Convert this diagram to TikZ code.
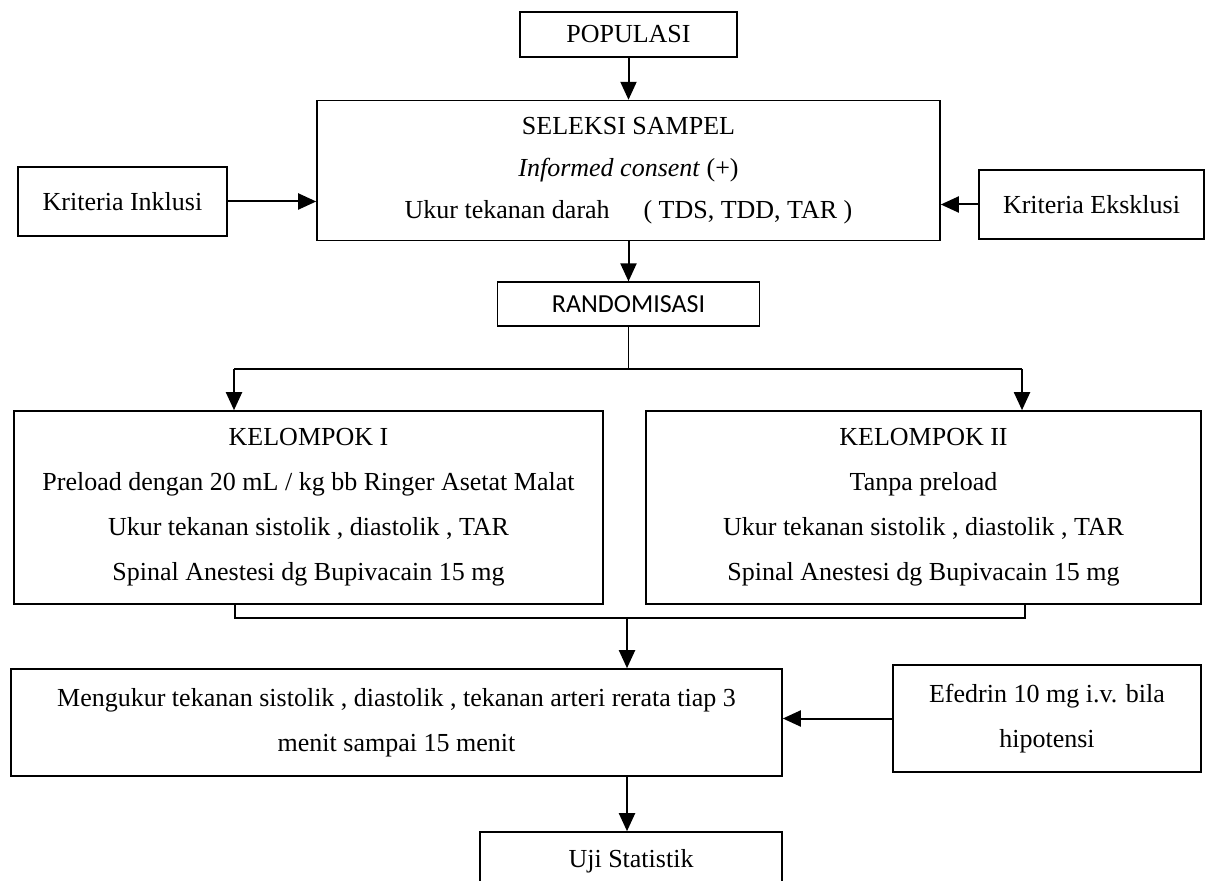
\documentclass[tikz,border=0pt]{standalone}
\usepackage{fontspec}
\setmainfont{Liberation Serif}
\newfontfamily\calibrifont{Carlito}
\usetikzlibrary{positioning, arrows.meta}

\begin{document}
\begin{tikzpicture}[
    x=0.5pt, y=-0.5pt,
    every node/.style={font=\fontsize{13}{22.5}\selectfont},
    box/.style={draw, line width=0.8pt, align=center, inner sep=0pt},
    arr/.style={-{Triangle[width=8pt,length=9pt]}, line width=1pt},
    link/.style={line width=0.6pt}
  ]
    \useasboundingbox (0,0) rectangle (1208,881);

    \node[box, minimum width=108.5pt, minimum height=22.5pt] (pop) at (628.5,34.5) {POPULASI};
    \node[box, below=21pt of pop, minimum width=311.5pt, minimum height=70pt,
          font=\fontsize{13}{21}\selectfont] (sel)
        {SELEKSI SAMPEL\\ \textit{Informed consent} (+)\\
         Ukur tekanan darah\hspace{1.3em}( TDS, TDD, TAR )};
    \node[box, minimum width=104.5pt, minimum height=34.5pt] (inkl) at (122.5,201.5) {Kriteria Inklusi};
    \node[box, minimum width=112.5pt, minimum height=34.5pt] (eks) at (1091.5,204.5) {Kriteria Eksklusi};
    \node[box, below=20pt of sel, minimum width=131pt, minimum height=22pt,
          font=\calibrifont\fontsize{13}{16}\selectfont] (rand) {RANDOMISASI};

    \node[box, minimum width=294.5pt, minimum height=96.5pt] (k1) at (308.5,507.5)
        {KELOMPOK I\\ Preload dengan 20 mL / kg bb Ringer Asetat Malat\\
         Ukur tekanan sistolik , diastolik , TAR\\ Spinal Anestesi dg Bupivacain 15 mg};
    \node[box, minimum width=277.5pt, minimum height=96.5pt] (k2) at (923.5,507.5)
        {KELOMPOK II\\ Tanpa preload\\
         Ukur tekanan sistolik , diastolik , TAR\\ Spinal Anestesi dg Bupivacain 15 mg};

    \node[box, minimum width=385.5pt, minimum height=53.5pt] (meng) at (396.5,722.5)
        {Mengukur tekanan sistolik , diastolik , tekanan arteri rerata tiap 3\\ menit sampai 15 menit};
    \node[box, minimum width=154pt, minimum height=53.5pt] (eff) at (1047,718.5)
        {Efedrin 10 mg i.v. bila\\ hipotensi};
    \node[box, minimum width=151pt, minimum height=29pt] (uji) at (631,861) {Uji Statistik};

    \coordinate (forkL) at (234,369);
    \coordinate (forkR) at (1022,369);
    \coordinate (joinL) at (235,618);
    \coordinate (joinR) at (1025,618);
    \coordinate (join) at (627,618);

    \draw[arr] (pop) -- (sel);
    \draw[arr] (inkl.east) -- (inkl.east -| sel.west);
    \draw[arr] (eks.west) -- (eks.west -| sel.east);
    \draw[arr] (sel) -- (rand);
    \draw[link] (rand.south) -- (rand.south |- forkL);
    \draw[line width=0.8pt] (forkL) -- (forkR);
    \draw[arr] (forkL) -- (forkL |- k1.north);
    \draw[arr] (forkR) -- (forkR |- k2.north);
    \draw[link] (joinL |- k1.south) -- (joinL) -- (joinR) -- (joinR |- k2.south);
    \draw[arr] (join) -- (join |- meng.north);
    \draw[arr] (eff.west) -- (eff.west -| meng.east);
    \draw[arr] (meng.south -| join) -- (uji.north -| join);
\end{tikzpicture}
\end{document}
